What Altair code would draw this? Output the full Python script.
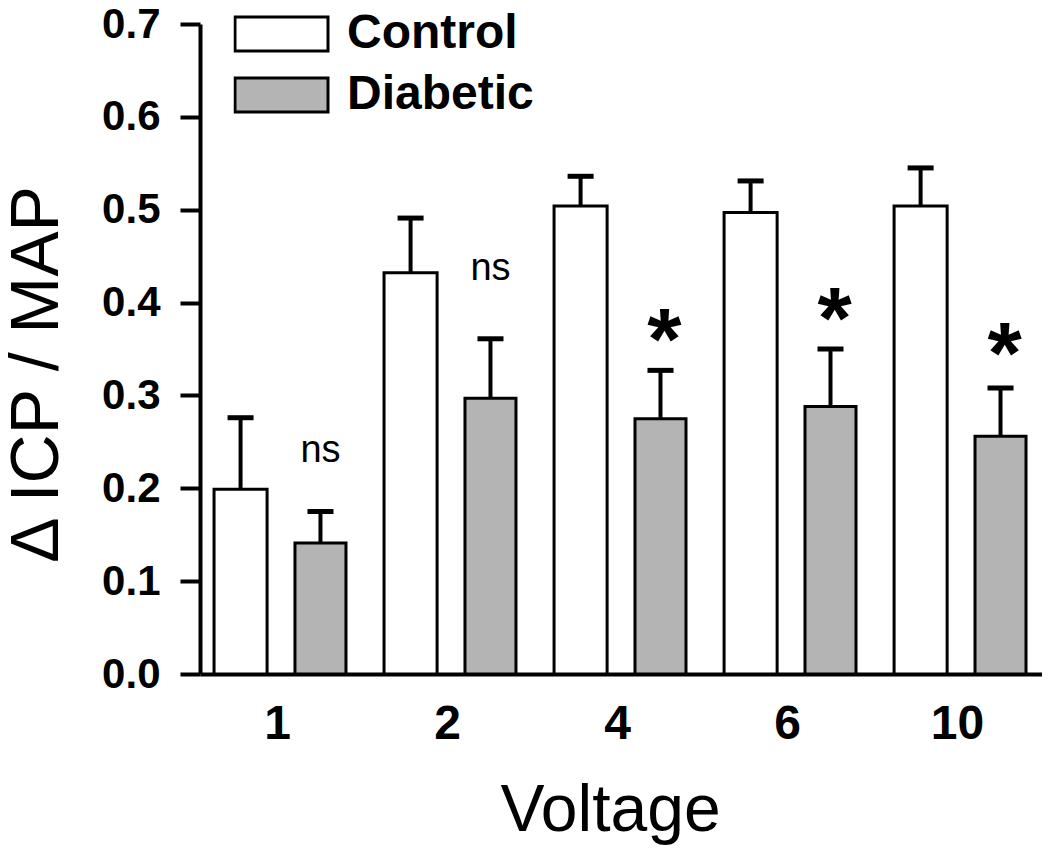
import altair as alt
import pandas as pd

# ---- data ----
voltages = ["1", "2", "4", "6", "10"]
groups = ["Control", "Diabetic"]
control_mean = [0.199, 0.432, 0.504, 0.497, 0.504]
control_upper = [0.276, 0.491, 0.536, 0.531, 0.545]
diabetic_mean = [0.141, 0.297, 0.275, 0.288, 0.256]
diabetic_upper = [0.175, 0.361, 0.327, 0.350, 0.308]
annot_text = ["ns", "ns", "*", "*", "*"]
annot_y = [0.228, 0.424, 0.329, 0.351, 0.313]

FONT = "Liberation Sans"

# layout of a group (in category units, one unit = one voltage step)
bar_span = {"Control": (-0.388, -0.076), "Diabetic": (0.088, 0.388)}
err_center = {"Control": -0.232, "Diabetic": 0.238}
cap_half = 0.0765

rows = []
for i, v in enumerate(voltages):
    for g, means, ups in (("Control", control_mean, control_upper),
                          ("Diabetic", diabetic_mean, diabetic_upper)):
        lo, hi = bar_span[g]
        c = err_center[g]
        rows.append(dict(voltage=v, group=g, mean=means[i], upper=ups[i], zero=0.0,
                         lo=i + lo, hi=i + hi, ec=i + c,
                         cap_lo=i + c - cap_half, cap_hi=i + c + cap_half))
df = pd.DataFrame(rows)

ann = pd.DataFrame(dict(x=[i + err_center["Diabetic"] for i in range(len(voltages))],
                        y=annot_y, text=annot_text))

label_expr = "[" + ",".join("'%s'" % v for v in voltages) + "][datum.value]"

xscale = alt.Scale(domain=[-0.4706, 4.482], nice=False, zero=False)
yscale = alt.Scale(domain=[0, 0.7], nice=False)

xaxis = alt.Axis(values=list(range(len(voltages))), labelExpr=label_expr,
                 ticks=False, tickSize=0, grid=False, domainWidth=4,
                 labelFontSize=48, labelFontWeight="bold", labelPadding=26,
                 labelFlush=False, labelFont=FONT, labelOffset=-3,
                 title="Voltage", titleFontSize=66, titleFontWeight="normal",
                 titleFont=FONT, titleX=410, titleY=156, titleBaseline="alphabetic")
yaxis = alt.Axis(values=[0, 0.1, 0.2, 0.3, 0.4, 0.5, 0.6, 0.7], format=".1f",
                 tickSize=20, tickWidth=4, domainWidth=4, grid=False,
                 labelFontSize=42, labelFontWeight="bold", labelPadding=20,
                 labelFont=FONT,
                 title="Δ ICP / MAP", titleFontSize=68, titleFontWeight="normal",
                 titleFont=FONT, titleX=-143, titleY=350, titleAngle=270,
                 titleBaseline="alphabetic", titleAlign="center")

XT = "Voltage"
YT = "Δ ICP / MAP"

bars = alt.Chart(df).mark_bar(stroke="black", strokeWidth=3, opacity=1).encode(
    x=alt.X("lo:Q", scale=xscale, axis=xaxis, title=XT),
    x2="hi:Q",
    y=alt.Y("mean:Q", scale=yscale, axis=yaxis, title=YT),
    y2="zero:Q",
    fill=alt.Fill("group:N",
                  scale=alt.Scale(domain=groups, range=["#ffffff", "#b4b4b4"]),
                  legend=alt.Legend(orient="none", legendX=33.5, legendY=-13,
                                    title=None, padding=0,
                                    symbolType="M-1,-0.366H1V0.366H-1Z",
                                    symbolSize=8649, symbolStrokeColor="black",
                                    symbolStrokeWidth=3, symbolOpacity=1,
                                    labelFont=FONT, labelFontSize=48,
                                    labelFontWeight="bold", labelColor="black",
                                    labelOffset=17.5, labelLimit=0,
                                    clipHeight=46, rowPadding=13)),
)

err = alt.Chart(df).mark_rule(color="black", strokeWidth=4).encode(
    x=alt.X("ec:Q", scale=xscale, axis=xaxis, title=XT),
    y=alt.Y("mean:Q", scale=yscale, axis=yaxis, title=YT),
    y2="upper:Q",
)

caps = alt.Chart(df).mark_rule(color="black", strokeWidth=5).encode(
    x=alt.X("cap_lo:Q", scale=xscale, axis=xaxis, title=XT),
    x2="cap_hi:Q",
    y=alt.Y("upper:Q", scale=yscale, axis=yaxis, title=YT),
)

ns_txt = alt.Chart(ann).transform_filter("datum.text == 'ns'").mark_text(
    font=FONT, fontSize=38, baseline="alphabetic", align="center", color="black"
).encode(
    x=alt.X("x:Q", scale=xscale, axis=xaxis, title=XT),
    y=alt.Y("y:Q", scale=yscale, axis=yaxis, title=YT),
    text="text:N",
)

star_txt = alt.Chart(ann).transform_filter("datum.text == '*'").mark_text(
    font=FONT, fontSize=88, fontWeight="bold", baseline="alphabetic",
    align="center", color="black", dx=4
).encode(
    x=alt.X("x:Q", scale=xscale, axis=xaxis, title=XT),
    y=alt.Y("y:Q", scale=yscale, axis=yaxis, title=YT),
    text="text:N",
)

chart = alt.layer(err, caps, bars, ns_txt, star_txt).properties(
    width=842, height=650,
    padding={"left": 192, "top": 16, "right": 0, "bottom": 174},
    autosize=alt.AutoSizeParams(type="none"),
).configure_view(stroke=None).configure_axis(
    domainColor="black", tickColor="black", labelColor="black", titleColor="black"
)

chart.save("out.html", embed_options={"renderer": "svg", "actions": False})
